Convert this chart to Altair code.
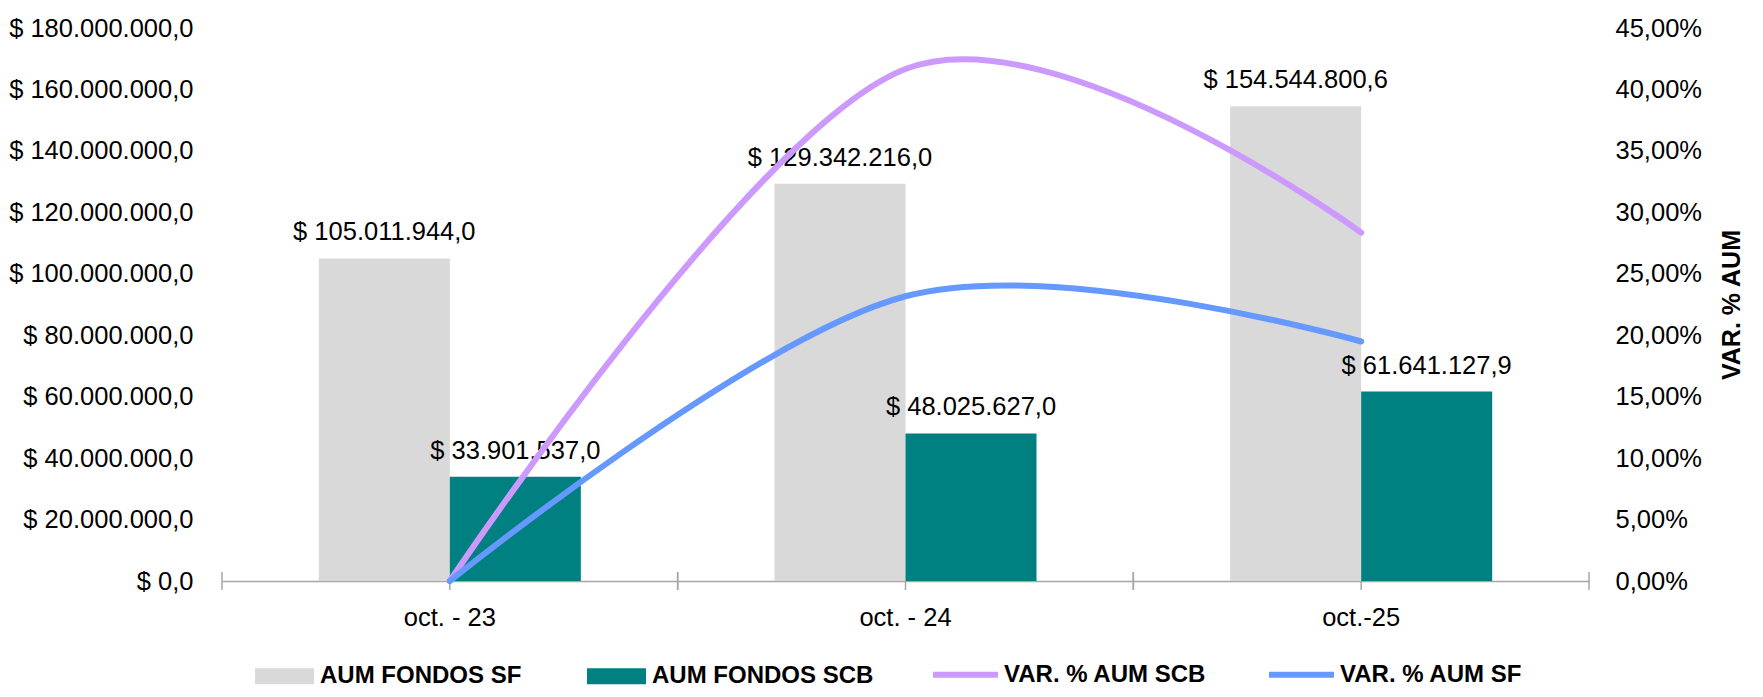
import altair as alt
import pandas as pd

categories = ["oct. - 23", "oct. - 24", "oct.-25"]
aum_sf = [105011944.0, 129342216.0, 154544800.6]
aum_scb = [33901537.0, 48025627.0, 61641127.9]
var_scb = [0.0, 0.4166, 0.2835]
var_sf = [0.0, 0.2317, 0.1949]

bar_series = ["AUM FONDOS SF", "AUM FONDOS SCB"]
bar_colors = ["#D9D9D9", "#008080"]
line_series = ["VAR. % AUM SCB", "VAR. % AUM SF"]
line_colors = ["#CC99FF", "#6699FF"]

FONT = "Liberation Sans, Arial, sans-serif"
FS = 25.5

bars_df = pd.DataFrame(
    [{"cat": c, "serie": bar_series[0], "valor": v} for c, v in zip(categories, aum_sf)]
    + [{"cat": c, "serie": bar_series[1], "valor": v} for c, v in zip(categories, aum_scb)]
)
lines_df = pd.DataFrame(
    [{"cat": c, "serie": line_series[0], "var": v} for c, v in zip(categories, var_scb)]
    + [{"cat": c, "serie": line_series[1], "var": v} for c, v in zip(categories, var_sf)]
)
ticks_df = pd.DataFrame({"cat": categories})

W, H = 1367, 553

x_enc = alt.X("cat:N", sort=categories,
              scale=alt.Scale(paddingInner=0, paddingOuter=0),
              axis=alt.Axis(title=None, ticks=False, tickSize=0, labelPadding=24,
                            labelAngle=0, domainColor="#A6A6A6", domainWidth=1.5,
                            labelFontSize=FS, labelFont=FONT, labelColor="#000000",
                            labelLimit=0))
xoff = alt.XOffset("serie:N", sort=bar_series,
                   scale=alt.Scale(paddingOuter=0.739, paddingInner=0))
y_left = alt.Y("valor:Q",
               scale=alt.Scale(domain=[0, 180000000], nice=False),
               axis=alt.Axis(title=None, values=list(range(0, 180000001, 20000000)),
                             format="$,.1f", grid=False, domain=False, ticks=False,
                             tickSize=0, labelPadding=29, labelFontSize=FS,
                             labelFont=FONT, labelColor="#000000", labelLimit=0))

bars = alt.Chart(bars_df).mark_bar().encode(
    x=x_enc,
    xOffset=xoff,
    y=y_left,
    color=alt.Color("serie:N", sort=bar_series,
                    scale=alt.Scale(domain=bar_series, range=bar_colors),
                    legend=alt.Legend(title=None, orient="none", direction="horizontal",
                                      columns=4, legendX=33, legendY=618.5,
                                      symbolType="M-1,-0.27H1V0.27H-1Z",
                                      symbolSize=3481, symbolStrokeWidth=0,
                                      labelOffset=6, columnPadding=65, padding=0,
                                      labelFont=FONT, labelFontSize=24, labelLimit=0,
                                      labelFontWeight="bold", labelColor="#000000")),
)
labels = alt.Chart(bars_df).mark_text(baseline="alphabetic", dy=-18, fontSize=FS,
                                       font=FONT, color="#000000").encode(
    x=alt.X("cat:N", sort=categories),
    xOffset=alt.XOffset("serie:N", sort=bar_series),
    y=alt.Y("valor:Q"),
    text=alt.Text("valor:Q", format="$,.1f"),
)

tick_color = "#A6A6A6"
tick_lo = alt.Chart(ticks_df).mark_rule(color=tick_color, strokeWidth=1.5).encode(
    x=alt.X("cat:N", sort=categories, bandPosition=0),
    y=alt.value(H - 9), y2=alt.value(H + 9))
tick_hi = alt.Chart(ticks_df).mark_rule(color=tick_color, strokeWidth=1.5).encode(
    x=alt.X("cat:N", sort=categories, bandPosition=1),
    y=alt.value(H - 9), y2=alt.value(H + 9))
tick_mid = alt.Chart(ticks_df).mark_rule(color=tick_color, strokeWidth=1.5).encode(
    x=alt.X("cat:N", sort=categories, bandPosition=0.5),
    y=alt.value(H), y2=alt.value(H + 9))

left = alt.layer(bars, labels, tick_lo, tick_hi, tick_mid)

lines = alt.Chart(lines_df).mark_line(interpolate="cardinal", strokeWidth=6,
                                      strokeCap="round").encode(
    x=alt.X("cat:N", sort=categories),
    y=alt.Y("var:Q",
            scale=alt.Scale(domain=[0, 0.45], nice=False),
            axis=alt.Axis(orient="right", title="VAR. % AUM",
                          values=[i * 0.05 for i in range(10)],
                          format=".2%", grid=False, domain=False, ticks=False,
                          tickSize=0, labelPadding=26, labelFontSize=FS,
                          labelFont=FONT, labelColor="#000000", labelLimit=0,
                          titleFont=FONT, titleFontSize=25, titleFontWeight="bold",
                          titleColor="#000000", titleAngle=270, titleX=142,
                          titleY=H / 2, titleBaseline="middle", titleAlign="center")),
    color=alt.Color("serie:N", sort=line_series,
                    scale=alt.Scale(domain=line_series, range=line_colors),
                    legend=alt.Legend(title=None, orient="none", direction="horizontal",
                                      columns=2, legendX=708, legendY=611,
                                      symbolType="stroke", symbolSize=4225,
                                      symbolStrokeWidth=6,
                                      labelOffset=3, columnPadding=50, padding=0,
                                      labelFont=FONT, labelFontSize=24, labelLimit=0,
                                      labelFontWeight="bold", labelColor="#000000")),
    detail="serie:N",
)

chart = alt.layer(left, lines).resolve_scale(
    y="independent", color="independent"
).resolve_legend(color="independent").properties(
    width=W, height=H,
    padding={"left": 214, "top": 20, "right": 166, "bottom": 108},
    autosize=alt.AutoSizeParams(type="none"),
).configure(
    locale={"number": {"decimal": ",", "thousands": ".", "grouping": [3],
                       "currency": ["$ ", ""], "percent": "%"}}
).configure_view(stroke=None)

chart.save("out.html", embed_options={"renderer": "svg", "actions": False})
